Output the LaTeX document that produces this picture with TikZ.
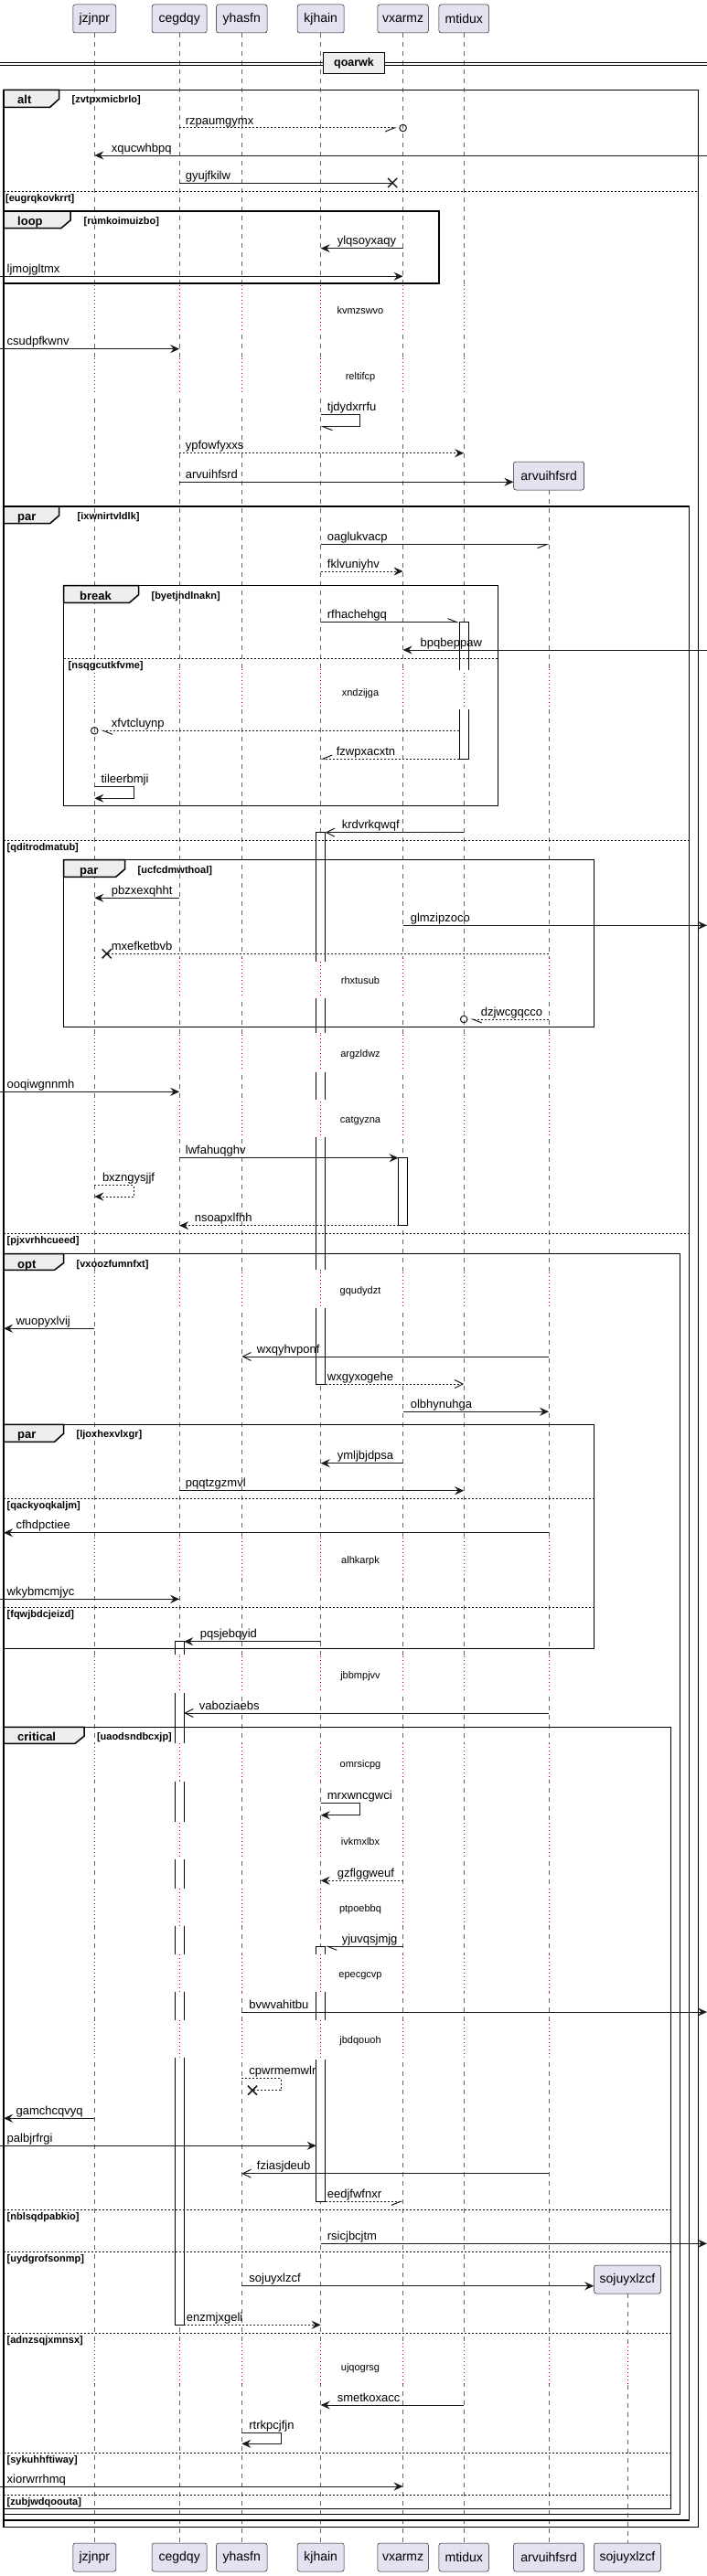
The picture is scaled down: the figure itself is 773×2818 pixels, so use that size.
\documentclass[tikz,border=0pt]{standalone}
\usepackage{fontspec}
\setmainfont{Liberation Sans}
\usetikzlibrary{arrows.meta,calc}
\definecolor{partfill}{HTML}{E2E2F0}
\definecolor{partdraw}{HTML}{181818}
\definecolor{tabfill}{HTML}{EEEEEE}
\definecolor{delaycol}{HTML}{A80036}
\newcommand\actTop[3]{\fill[white] (#1,#2) rectangle ({#1+10},#3); \draw[actl] (#1,#3) -- (#1,#2) -- ({#1+10},#2) -- ({#1+10},#3);}
\newcommand\actMid[3]{\fill[white] (#1,#2) rectangle ({#1+10},#3); \draw[actl] (#1,#2) -- (#1,#3) (#1+10,#2) -- ({#1+10},#3);}
\newcommand\actBot[3]{\fill[white] (#1,#2) rectangle ({#1+10},#3); \draw[actl] (#1,#2) -- (#1,#3) -- ({#1+10},#3) -- ({#1+10},#2);}
\newcommand\actFull[3]{\draw[actl,fill=white] (#1,#2) rectangle ({#1+10},#3);}
\begin{document}
\begin{tikzpicture}[x=1pt,y=-1pt,
  part/.style={draw=partdraw, fill=partfill, rounded corners=2.5pt, line width=0.5pt, minimum height=31pt, inner sep=0pt, font=\fontsize{14}{16}\selectfont},
  life/.style={draw=black!60, line width=0.6pt, dash pattern=on 5pt off 5pt},
  dly/.style={draw=delaycol, line width=0.7pt, dash pattern=on 1pt off 3pt},
  frm/.style={draw=black, line width=1.5pt},
  divl/.style={draw=black, line width=0.8pt, dash pattern=on 2pt off 2pt},
  actl/.style={draw=black, line width=0.8pt},
  msg/.style={draw=black!90, line width=1pt},
  ret/.style={msg, dash pattern=on 2pt off 2pt},
  msgc/.style={draw=black!90, line width=1pt},
  xm/.style={draw=black!90, line width=1.5pt},
  fa/.style={-{Stealth[length=10pt,width=9pt,inset=3.5pt]}},
  oa/.style={-{Straight Barb[length=9pt,width=9pt]}},
  hl/.style={-{Straight Barb[harpoon,length=10pt,width=8pt]}},
  hr/.style={-{Straight Barb[harpoon,swap,length=10pt,width=8pt]}},
  lbl/.style={anchor=base west, inner sep=0pt, font=\fontsize{13}{15}\selectfont},
  glbl/.style={anchor=base west, inner sep=0pt, font=\bfseries\fontsize{11}{13}\selectfont},
  kw/.style={anchor=base west, inner sep=0pt, font=\bfseries\fontsize{13}{15}\selectfont},
  dtxt/.style={anchor=base, inner sep=0pt, font=\fontsize{11}{13}\selectfont}]
\useasboundingbox (0,0) rectangle (773,2818);
\fill[white] (0,0) rectangle (773,2818);
% participants
\node[part, minimum width=47pt] (Tjz) at (103.3,20.5) {jzjnpr};
\node[part, minimum width=60pt] (Tce) at (196.2,20.5) {cegdqy};
\node[part, minimum width=55.5pt] (Tyh) at (264.3,20.5) {yhasfn};
\node[part, minimum width=51pt] (Tkj) at (350.7,20.5) {kjhain};
\node[part, minimum width=55.5pt] (Tvx) at (440.6,20.5) {vxarmz};
\node[part, minimum width=54.5pt] (Tmt) at (507.2,20.5) {mtidux};
\node[part, minimum width=77pt] (Tar) at (600.1,520.5) {arvuihfsrd};
\node[part, minimum width=73pt] (Tso) at (686,2493.5) {sojuyxlzcf};
\node[part, minimum width=47pt] (Bjz) at (103.3,2797.5) {jzjnpr};
\node[part, minimum width=60pt] (Bce) at (196.2,2797.5) {cegdqy};
\node[part, minimum width=55.5pt] (Byh) at (264.3,2797.5) {yhasfn};
\node[part, minimum width=51pt] (Bkj) at (350.7,2797.5) {kjhain};
\node[part, minimum width=55.5pt] (Bvx) at (440.6,2797.5) {vxarmz};
\node[part, minimum width=54.5pt] (Bmt) at (507.2,2797.5) {mtidux};
\node[part, minimum width=77pt] (Bar) at (600.1,2797.5) {arvuihfsrd};
\node[part, minimum width=73pt] (Bso) at (686,2797.5) {sojuyxlzcf};
\coordinate (Lx) at (0,0);
\coordinate (Fx) at (4,0);
\coordinate (Rx) at (773,0);
\coordinate (kjL) at (345.7,0);
\coordinate (kjR) at (355.7,0);
\coordinate (mtL) at (502.2,0);
\coordinate (vxL) at (435.6,0);
\coordinate (ceR) at (201.2,0);
% lifelines
\foreach \n in {jz,ce,yh,kj,vx,mt,ar,so} {\draw[life] (T\n.south) -- (B\n.north);}
% delays
\foreach \a/\b/\c/\t in {311.7/360/343.3/kvmzswvo,391.7/431.7/415.7/reltifcp} {
  \foreach \n in {jz,ce,yh,kj,vx,mt} {\fill[white] ($(T\n |- 0,\a)+(-1.5,0)$) rectangle ($(T\n |- 0,\b)+(1.5,0)$); \draw[dly] (T\n |- 0,\a) -- (T\n |- 0,\b);}
  \node[dtxt] (d\t) at (394,\c) {\t};}
\foreach \a/\b/\c/\t in {731.7/775/761.7/xndzijga,1048.3/1091.7/1076.7/rhxtusub,1131.7/1171.7/1156.7/argzldwz,1205/1243.3/1228.3/catgyzna,1391.7/1431.7/1415/gqudydzt,1681.7/1725/1710/alhkarpk,1811.7/1851.7/1836.7/jbbmpjvv,1907.3/1948.3/1933.3/omrsicpg,1994/2033.3/2018.3/ivkmxlbx,2066/2106.7/2091.7/ptpoebbq,2137.7/2178.3/2163.3/epecgcvp,2210/2250/2235/jbdqouoh} {
  \foreach \n in {jz,ce,yh,kj,vx,mt,ar} {\fill[white] ($(T\n |- 0,\a)+(-1.5,0)$) rectangle ($(T\n |- 0,\b)+(1.5,0)$); \draw[dly] (T\n |- 0,\a) -- (T\n |- 0,\b);}
  \node[dtxt] (d\t) at (394,\c) {\t};}
\foreach \a/\b/\c/\t in {2563.3/2608.3/2593/ujqogrsg} {
  \foreach \n in {jz,ce,yh,kj,vx,mt,ar,so} {\fill[white] ($(T\n |- 0,\a)+(-1.5,0)$) rectangle ($(T\n |- 0,\b)+(1.5,0)$); \draw[dly] (T\n |- 0,\a) -- (T\n |- 0,\b);}
  \node[dtxt] (d\t) at (394,\c) {\t};}
% activations
\actTop{502.2}{680.7}{733}
\actBot{502.2}{776}{830}
\actTop{345.7}{910.7}{1051.7}
\actMid{345.7}{1091.7}{1130}
\actMid{345.7}{1172.7}{1202.7}
\actMid{345.7}{1244}{1389.3}
\actBot{345.7}{1430.7}{1514}
\actFull{435.6}{1266.7}{1340.7}
\actTop{191.2}{1795.7}{1810}
\actMid{191.2}{1852.3}{1907.3}
\actMid{191.2}{1949.3}{1993.3}
\actMid{191.2}{2034}{2065.7}
\actMid{191.2}{2106.7}{2137.7}
\actMid{191.2}{2179.3}{2210}
\actBot{191.2}{2251}{2543.3}
\actTop{345.7}{2129.3}{2137.7}
\actMid{345.7}{2179.3}{2210}
\actBot{345.7}{2253}{2408.3}
% separator
\draw[line width=1.2pt] (0,68.3) -- (773,68.3);
\draw[line width=1.2pt] (0,71.2) -- (773,71.2);
\node[draw=black, line width=1.5pt, fill=tabfill, minimum width=66.6pt, minimum height=23.4pt, inner sep=0pt, font=\bfseries\fontsize{12.5}{15}\selectfont] (sep) at (387,69) {qoarwk};
% frames
\draw[frm] (4,98.3) rectangle (763.5,2764.7);
\draw[frm] (4,231) rectangle (480,310);
\draw[frm] (4,554) rectangle (753.6,2757);
\draw[frm] (69.5,640.7) rectangle (544.5,881.7);
\draw[frm] (69.5,940.7) rectangle (649.3,1123.3);
\draw[frm] (4,1371.7) rectangle (743.7,2750.7);
\draw[frm] (4,1558.3) rectangle (649.3,1803.3);
\draw[frm] (4,1889.3) rectangle (733.7,2744.3);
% tabs
\draw[frm, fill=tabfill] (4,98.3) -- (64.6,98.3) -- (64.6,108.3) -- (54.6,117.3) -- (4,117.3) -- cycle;
\draw[frm, fill=tabfill] (4,231) -- (77,231) -- (77,241) -- (67,249.5) -- (4,249.5) -- cycle;
\draw[frm, fill=tabfill] (4,554) -- (64.6,554) -- (64.6,564) -- (54.6,572.7) -- (4,572.7) -- cycle;
\draw[frm, fill=tabfill] (69.5,640.7) -- (151.5,640.7) -- (151.5,650.7) -- (141.5,659.3) -- (69.5,659.3) -- cycle;
\draw[frm, fill=tabfill] (69.5,940.7) -- (136.6,940.7) -- (136.6,950.7) -- (126.6,959.3) -- (69.5,959.3) -- cycle;
\draw[frm, fill=tabfill] (4,1371.7) -- (69.5,1371.7) -- (69.5,1381.7) -- (59.5,1389.3) -- (4,1389.3) -- cycle;
\draw[frm, fill=tabfill] (4,1558.3) -- (69.5,1558.3) -- (69.5,1568.3) -- (59.5,1577.3) -- (4,1577.3) -- cycle;
\draw[frm, fill=tabfill] (4,1889.3) -- (92,1889.3) -- (92,1899.3) -- (82,1907.3) -- (4,1907.3) -- cycle;
\node[kw] (k1) at (19,113.8) {alt};
\node[kw] (k2) at (19,246.5) {loop};
\node[kw] (k3) at (19,569.5) {par};
\node[kw] (k4) at (87,656.2) {break};
\node[kw] (k5) at (87,956.2) {par};
\node[kw] (k6) at (19,1387.2) {opt};
\node[kw] (k7) at (19,1573.8) {par};
\node[kw] (k8) at (19,1904.8) {critical};
\node[glbl] (g1) at (78.5,112.8) {[zvtpxmicbrlo]};
\node[glbl] (g2) at (91.4,245.5) {[rumkoimuizbo]};
\node[glbl] (g3) at (84.5,568.5) {[ixwnirtvldlk]};
\node[glbl] (g4) at (165.4,655.2) {[byetjndlnakn]};
\node[glbl] (g5) at (150.5,955.2) {[ucfcdmwthoal]};
\node[glbl] (g6) at (83.5,1386.2) {[vxoozfumnfxt]};
\node[glbl] (g7) at (83.5,1572.8) {[ljoxhexvlxgr]};
\node[glbl] (g8) at (105.8,1903.8) {[uaodsndbcxjp]};
% dividers
\draw[divl] (4,209.3) -- (763.5,209.3);
\draw[divl] (69.5,720) -- (544.5,720);
\draw[divl] (4,919.3) -- (753.6,919.3);
\draw[divl] (4,1349.3) -- (753.6,1349.3);
\draw[divl] (4,1639.3) -- (649.3,1639.3);
\draw[divl] (4,1758.3) -- (649.3,1758.3);
\draw[divl] (4,2417.3) -- (733.7,2417.3);
\draw[divl] (4,2463.3) -- (733.7,2463.3);
\draw[divl] (4,2552.7) -- (733.7,2552.7);
\draw[divl] (4,2683.3) -- (733.7,2683.3);
\draw[divl] (4,2729) -- (733.7,2729);
\node[glbl] (e1) at (6,220.3) {[eugrqkovkrrt]};
\node[glbl] (e2) at (74.5,731) {[nsqgcutkfvme]};
\node[glbl] (e3) at (7.5,930.3) {[qditrodmatub]};
\node[glbl] (e4) at (7.5,1360.3) {[pjxvrhhcueed]};
\node[glbl] (e5) at (7.5,1650.3) {[qackyoqkaljm]};
\node[glbl] (e6) at (7.5,1769.3) {[fqwjbdcjeizd]};
\node[glbl] (e7) at (7.5,2428.3) {[nblsqdpabkio]};
\node[glbl] (e8) at (7.5,2474.3) {[uydgrofsonmp]};
\node[glbl] (e9) at (7.5,2563.7) {[adnzsqjxmnsx]};
\node[glbl] (e10) at (7.5,2694.3) {[sykuhhftiway]};
\node[glbl] (e11) at (7.5,2740) {[zubjwdqoouta]};
% messages
\draw[ret,hr] (Tce |- 0,140) -- ($(Tvx |- 0,140)+(-7,0)$);
\draw[msgc] (Tvx |- 0,140) circle[radius=3.8pt];
\draw[msg,fa] (Rx |- 0,170) -- (Tjz |- 0,170);
\draw[msg] (Tce |- 0,200) -- ($(Tvx |- 0,200)+(-11.5,0)$) coordinate (x3);
\draw[xm] (x3) +(-5,-5) -- +(5,5) +(-5,5) -- +(5,-5);
\draw[msg,fa] (Tvx |- 0,271.7) -- (Tkj |- 0,271.7);
\draw[msg,fa] (Lx |- 0,302.3) -- (Tvx |- 0,302.3);
\draw[msg,fa] (Lx |- 0,381.7) -- (Tce |- 0,381.7);
\draw[msg,hl] (Tkj |- 0,453.3) -- ++(42.7,0) -- ++(0,13.4) -- (Tkj |- 0,466.7);
\draw[ret,fa] (Tce |- 0,495.7) -- (Tmt |- 0,495.7);
\draw[msg,fa] (Tce |- 0,527.3) -- (Tar.west |- 0,527.3);
\draw[msg,hr] (Tkj |- 0,595.7) -- (Tar |- 0,595.7);
\draw[ret,fa] (Tkj |- 0,625) -- (Tvx |- 0,625);
\draw[msg,hl] (Tkj |- 0,680.7) -- (mtL |- 0,680.7);
\draw[msg,fa] (Rx |- 0,711) -- (Tvx |- 0,711);
\draw[ret,hl] (mtL |- 0,799.3) -- ($(Tjz |- 0,799.3)+(7,0)$);
\draw[msgc] (Tjz |- 0,799.3) circle[radius=3.8pt];
\draw[ret,hr] (mtL |- 0,830) -- (Tkj |- 0,830);
\draw[msg,fa] (Tjz |- 0,860.7) -- ++(43.2,0) -- ++(0,12.6) -- (Tjz |- 0,873.3);
\draw[msg,oa] (Tmt |- 0,910.7) -- (kjR |- 0,910.7);
\draw[msg,fa] (Tce |- 0,982.3) -- (Tjz |- 0,982.3);
\draw[msg,fa] (Tvx |- 0,1012.3) -- (Rx |- 0,1012.3);
\draw[ret] (Tar |- 0,1043.3) -- ($(Tjz |- 0,1043.3)+(13.4,0)$) coordinate (x20);
\draw[xm] (x20) +(-5,-5) -- +(5,5) +(-5,5) -- +(5,-5);
\draw[ret,hl] (Tar |- 0,1115) -- ($(Tmt |- 0,1115)+(7,0)$);
\draw[msgc] (Tmt |- 0,1115) circle[radius=3.8pt];
\draw[msg,fa] (Lx |- 0,1194.3) -- (Tce |- 0,1194.3);
\draw[msg,fa] (Tce |- 0,1266.7) -- (vxL |- 0,1266.7);
\draw[ret,fa] (Tjz |- 0,1296.7) -- ++(43.2,0) -- ++(0,12.3) -- (Tjz |- 0,1309);
\draw[ret,fa] (vxL |- 0,1340.7) -- (Tce |- 0,1340.7);
\draw[msg,fa] (Tjz |- 0,1453.3) -- (Fx |- 0,1453.3);
\draw[msg,oa] (Tar |- 0,1484) -- (Tyh |- 0,1484);
\draw[ret,oa] (kjR |- 0,1514) -- (Tmt |- 0,1514);
\draw[msg,fa] (Tvx |- 0,1544.3) -- (Tar |- 0,1544.3);
\draw[msg,fa] (Tvx |- 0,1600.7) -- (Tkj |- 0,1600.7);
\draw[msg,fa] (Tce |- 0,1630.7) -- (Tmt |- 0,1630.7);
\draw[msg,fa] (Tar |- 0,1676.7) -- (Fx |- 0,1676.7);
\draw[msg,fa] (Lx |- 0,1749.3) -- (Tce |- 0,1749.3);
\draw[msg,fa] (Tkj |- 0,1795.7) -- (ceR |- 0,1795.7);
\draw[msg,oa] (Tar |- 0,1874) -- (ceR |- 0,1874);
\draw[msg,fa] (Tkj |- 0,1972.3) -- ++(42.7,0) -- ++(0,13.4) -- (Tkj |- 0,1985.7);
\draw[ret,fa] (Tvx |- 0,2057.3) -- (Tkj |- 0,2057.3);
\draw[msg,hl] (Tvx |- 0,2129.3) -- (kjR |- 0,2129.3);
\draw[msg,fa] (Tyh |- 0,2201) -- (Rx |- 0,2201);
\draw[ret] (Tyh |- 0,2273.3) -- ++(42.7,0) -- ++(0,13.4) -- ($(Tyh |- 0,2286.7)+(11.7,0)$) coordinate (x40);
\draw[xm] (x40) +(-5,-5) -- +(5,5) +(-5,5) -- +(5,-5);
\draw[msg,fa] (Tjz |- 0,2317.3) -- (Fx |- 0,2317.3);
\draw[msg,fa] (Lx |- 0,2347.3) -- (kjL |- 0,2347.3);
\draw[msg,oa] (Tar |- 0,2377.7) -- (Tyh |- 0,2377.7);
\draw[ret,hr] (kjR |- 0,2408.3) -- (Tvx |- 0,2408.3);
\draw[msg,fa] (Tkj |- 0,2454.3) -- (Rx |- 0,2454.3);
\draw[msg,fa] (Tyh |- 0,2500.7) -- (Tso.west |- 0,2500.7);
\draw[ret,fa] (ceR |- 0,2543.3) -- (Tkj |- 0,2543.3);
\draw[msg,fa] (Tmt |- 0,2631) -- (Tkj |- 0,2631);
\draw[msg,fa] (Tyh |- 0,2661.7) -- ++(42.7,0) -- ++(0,11.6) -- (Tyh |- 0,2673.3);
\draw[msg,fa] (Lx |- 0,2720) -- (Tvx |- 0,2720);
% labels
\node[lbl] (l1) at (202.7,136) {rzpaumgymx};
\node[lbl] (l2) at (121.7,166) {xqucwhbpq};
\node[lbl] (l3) at (202.7,196) {gyujfkilw};
\node[lbl] (l4) at (368.6,267.7) {ylqsoyxaqy};
\node[lbl] (l5) at (7.5,298.3) {ljmojgltmx};
\node[lbl] (l6) at (7.5,377.7) {csudpfkwnv};
\node[lbl] (l7) at (357.7,449.3) {tjdydxrrfu};
\node[lbl] (l8) at (202.7,491.7) {ypfowfyxxs};
\node[lbl] (l9) at (202.7,523.3) {arvuihfsrd};
\node[lbl] (l10) at (357.7,591.7) {oaglukvacp};
\node[lbl] (l11) at (357.7,621) {fklvuniyhv};
\node[lbl] (l12) at (357.7,676.7) {rfhachehgq};
\node[lbl] (l13) at (459.5,707) {bpqbeppaw};
\node[lbl] (l14) at (121.7,795.3) {xfvtcluynp};
\node[lbl] (l15) at (367.6,826) {fzwpxacxtn};
\node[lbl] (l16) at (110.3,856.7) {tileerbmji};
\node[lbl] (l17) at (373.6,906.7) {krdvrkqwqf};
\node[lbl] (l18) at (121.7,978.3) {pbzxexqhht};
\node[lbl] (l19) at (448.6,1008.3) {glmzipzoco};
\node[lbl] (l20) at (121.7,1039.3) {mxefketbvb};
\node[lbl] (l21) at (525.6,1111) {dzjwcgqcco};
\node[lbl] (l22) at (7.5,1190.3) {ooqiwgnnmh};
\node[lbl] (l23) at (202.7,1262.7) {lwfahuqghv};
\node[lbl] (l24) at (111.8,1292.7) {bxzngysjjf};
\node[lbl] (l25) at (212.6,1336.7) {nsoapxlfhh};
\node[lbl] (l26) at (17.4,1449.3) {wuopyxlvij};
\node[lbl] (l27) at (280.7,1480) {wxqyhvponf};
\node[lbl] (l28) at (357.7,1510) {wxgyxogehe};
\node[lbl] (l29) at (448.6,1540.3) {olbhynuhga};
\node[lbl] (l30) at (368.6,1596.7) {ymljbjdpsa};
\node[lbl] (l31) at (202.7,1626.7) {pqqtzgzmvl};
\node[lbl] (l32) at (17.4,1672.7) {cfhdpctiee};
\node[lbl] (l33) at (7.5,1745.3) {wkybmcmjyc};
\node[lbl] (l34) at (218.6,1791.7) {pqsjebqyid};
\node[lbl] (l35) at (217.6,1870) {vaboziaebs};
\node[lbl] (l36) at (357.7,1968.3) {mrxwncgwci};
\node[lbl] (l37) at (368.6,2053.3) {gzflggweuf};
\node[lbl] (l38) at (373.6,2125.3) {yjuvqsjmjg};
\node[lbl] (l39) at (272.2,2197) {bvwvahitbu};
\node[lbl] (l40) at (272.2,2269.3) {cpwrmemwlr};
\node[lbl] (l41) at (17.4,2313.3) {gamchcqvyq};
\node[lbl] (l42) at (7.5,2343.3) {palbjrfrgi};
\node[lbl] (l43) at (280.7,2373.7) {fziasjdeub};
\node[lbl] (l44) at (357.7,2404.3) {eedjfwfnxr};
\node[lbl] (l45) at (357.7,2450.3) {rsicjbcjtm};
\node[lbl] (l46) at (272.2,2496.7) {sojuyxlzcf};
\node[lbl] (l47) at (203.7,2539.3) {enzmjxgeli};
\node[lbl] (l48) at (368.6,2627) {smetkoxacc};
\node[lbl] (l49) at (272.2,2657.7) {rtrkpcjfjn};
\node[lbl] (l50) at (7.5,2716) {xiorwrrhmq};
\end{tikzpicture}
\end{document}
